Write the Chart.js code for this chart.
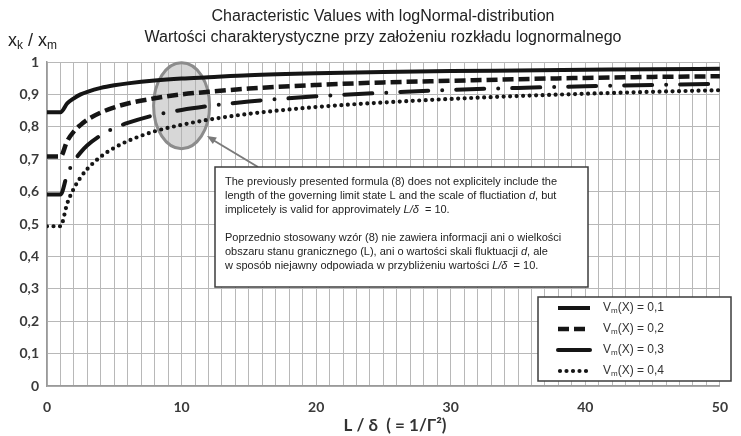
<!DOCTYPE html>
<html>
<head>
<meta charset="utf-8">
<script src="https://cdn.jsdelivr.net/npm/chart.js@4"></script>
<style>
  body { margin: 0; background: #fff; }
</style>
</head>
<body>
<canvas id="chart" width="741" height="436"></canvas>
<script>
/*=================================
      data
=================================*/
var ratios = [0, 1, 1.5, 2, 2.5, 3, 4, 5, 6, 8, 10, 12, 15, 20, 25, 30, 35, 40, 45, 50];
var v01 = [0.845, 0.845, 0.872, 0.888, 0.900, 0.908, 0.920, 0.928, 0.934, 0.943, 0.949, 0.953, 0.959, 0.965, 0.969, 0.972, 0.974, 0.976, 0.978, 0.979];
var v02 = [0.708, 0.708, 0.756, 0.786, 0.806, 0.822, 0.844, 0.860, 0.872, 0.888, 0.900, 0.908, 0.918, 0.929, 0.937, 0.942, 0.947, 0.951, 0.954, 0.956];
var v03 = [0.591, 0.591, 0.653, 0.693, 0.721, 0.743, 0.774, 0.796, 0.812, 0.836, 0.852, 0.864, 0.878, 0.894, 0.905, 0.914, 0.920, 0.925, 0.929, 0.933];
var v04 = [0.493, 0.493, 0.563, 0.610, 0.644, 0.670, 0.708, 0.735, 0.756, 0.786, 0.806, 0.822, 0.840, 0.861, 0.875, 0.886, 0.895, 0.902, 0.908, 0.913];
var legendValues = ["0,1", "0,2", "0,3", "0,4"];
var xLabelStep = 10;

var titleLines = [
  "Characteristic Values with logNormal-distribution",
  "Wartości charakterystyczne przy założeniu rozkładu lognormalnego",
];
var xTitle = "L / δ  ( = 1/Γ²)";

var noteLines = [
  [["The previously presented formula (8) does not explicitely include the", false]],
  [["length of the governing limit state L and the scale of fluctiation ", false], ["d", true], [", but", false]],
  [["implicetely is valid for approvimately ", false], ["L/δ", true], ["  = 10.", false]],
  null,
  [["Poprzednio stosowany wzór (8) nie zawiera informacji ani o wielkości", false]],
  [["obszaru stanu granicznego (L), ani o wartości skali fluktuacji ", false], ["d", true], [", ale", false]],
  [["w sposób niejawny odpowiada w przybliżeniu wartości ", false], ["L/δ", true], ["  = 10.", false]],
];

function points(values) {
  return ratios.map((r, i) => ({ x: r, y: values[i] }));
}

var ink = "#151515";
var styles = [
  { width: 4, dash: [], cap: "butt" },
  { width: 4.5, dash: [11, 5], cap: "butt" },
  { width: 4, dash: [28, 14, 0, 14], cap: "round" },
  { width: 4.2, dash: [0, 6.5], cap: "round" },
];
var series = [v01, v02, v03, v04];

var datasets = series.map((s, i) => ({
  label: "V_m(X) = " + legendValues[i],
  data: points(s),
  borderColor: ink,
  borderWidth: styles[i].width,
  borderDash: styles[i].dash,
  borderCapStyle: styles[i].cap,
  pointRadius: 0,
  cubicInterpolationMode: "monotone",
  fill: false,
}));

/*=================================
      extra drawing on canvas
=================================*/
function subText(ctx, parts, x, y, size) {
  // parts: [text, isSub]
  parts.forEach((p) => {
    ctx.font = (p[1] ? Math.round(size * 0.65) : size) + "px 'Liberation Sans', Arial, sans-serif";
    ctx.fillText(p[0], x, p[1] ? y + size * 0.25 : y);
    x += ctx.measureText(p[0]).width;
  });
  return x;
}

var decor = {
  id: "decor",
  beforeDatasetsDraw(chart) {
    const ctx = chart.ctx;
    const xs = chart.scales.x, ys = chart.scales.y;
    // grey ellipse round L/δ = 10
    const cx = xs.getPixelForValue(10), cy = ys.getPixelForValue(0.865);
    ctx.save();
    ctx.beginPath();
    ctx.ellipse(cx, cy, 28, 43, 0, 0, Math.PI * 2);
    ctx.fillStyle = "rgba(175,175,175,0.5)";
    ctx.fill();
    ctx.lineWidth = 3;
    ctx.strokeStyle = "#8c8c8c";
    ctx.stroke();
    ctx.restore();
  },
  afterDraw(chart) {
    const ctx = chart.ctx;
    ctx.save();
    ctx.fillStyle = "#222";
    ctx.textBaseline = "middle";

    // title
    ctx.textAlign = "center";
    ctx.font = "16px 'Liberation Sans', Arial, sans-serif";
    ctx.fillText(titleLines[0], 383, 17);
    ctx.fillText(titleLines[1], 383, 38);

    // y axis title
    ctx.textAlign = "left";
    subText(ctx, [["x", false], ["k", true], [" / x", false], ["m", true]], 8, 41, 18);

    // x axis title
    ctx.textAlign = "center";
    ctx.fillStyle = "#333";
    ctx.font = "bold 17px Lato, sans-serif";
    ctx.fillText(xTitle, 395, 426);

    // arrow from the note to the ellipse
    const ax = 207, ay = 136, bx = 258, by = 167;
    ctx.strokeStyle = "#7a7a7a";
    ctx.fillStyle = "#7a7a7a";
    ctx.lineWidth = 2;
    ctx.beginPath();
    ctx.moveTo(bx, by);
    ctx.lineTo(ax + 6, ay + 4);
    ctx.stroke();
    const ang = Math.atan2(ay - by, ax - bx);
    ctx.beginPath();
    ctx.moveTo(ax, ay);
    ctx.lineTo(ax - 10 * Math.cos(ang - 0.4), ay - 10 * Math.sin(ang - 0.4));
    ctx.lineTo(ax - 10 * Math.cos(ang + 0.4), ay - 10 * Math.sin(ang + 0.4));
    ctx.closePath();
    ctx.fill();

    // note box
    ctx.fillStyle = "#fff";
    ctx.fillRect(215, 167, 373, 120);
    ctx.strokeStyle = "#3c3c3c";
    ctx.lineWidth = 1.5;
    ctx.strokeRect(215, 167, 373, 120);
    ctx.fillStyle = "#222";
    ctx.textAlign = "left";
    noteLines.forEach((line, i) => {
      if (!line) return;
      let x = 225;
      const y = 182 + i * 14;
      line.forEach((run) => {
        ctx.font = (run[1] ? "italic " : "") + "11px 'Liberation Sans', Arial, sans-serif";
        ctx.fillText(run[0], x, y);
        x += ctx.measureText(run[0]).width;
      });
    });

    // legend box
    ctx.fillStyle = "#fff";
    ctx.fillRect(538, 297, 193, 84);
    ctx.strokeStyle = "#3c3c3c";
    ctx.strokeRect(538, 297, 193, 84);
    datasets.forEach((ds, i) => {
      const y = 308 + i * 21;
      ctx.save();
      ctx.strokeStyle = ink;
      ctx.lineWidth = ds.borderWidth;
      ctx.setLineDash(i === 2 ? [] : ds.borderDash);
      ctx.lineCap = ds.borderCapStyle;
      ctx.beginPath();
      ctx.moveTo(i === 3 ? 560 : 558, y);
      ctx.lineTo(590, y);
      ctx.stroke();
      ctx.restore();
      ctx.fillStyle = "#333";
      subText(ctx, [["V", false], ["m", true], ["(X) = " + legendValues[i], false]], 603, y, 12);
    });
    ctx.restore();
  },
};

/*=================================
      chart
=================================*/
var tickFont = { family: "Lato, sans-serif", size: 14, weight: "bold" };

new Chart("chart", {
  type: "line",
  data: { datasets: datasets },
  plugins: [decor],
  options: {
    responsive: false,
    animation: false,
    layout: { padding: { top: 62, right: 3, left: 0, bottom: 0 } },
    plugins: {
      legend: { display: false },
      tooltip: { enabled: false },
      title: { display: false },
    },
    scales: {
      x: {
        type: "linear",
        min: 0,
        max: 50,
        afterFit: (scale) => { scale.height = 50; },
        grid: { color: "#b8b8b8", drawTicks: false },
        border: { color: "#9a9a9a", width: 1.5 },
        ticks: {
          stepSize: 1,
          autoSkip: false,
          maxTicksLimit: 60,
          maxRotation: 0,
          padding: 13,
          color: "#3a3a3a",
          font: tickFont,
          callback: (v) => (v % xLabelStep === 0 ? String(v) : ""),
        },
      },
      y: {
        min: 0,
        max: 1,
        afterFit: (scale) => { scale.width = 47; },
        grid: { color: "#b8b8b8", drawTicks: false },
        border: { color: "#9a9a9a", width: 1.5 },
        ticks: {
          stepSize: 0.1,
          padding: 8,
          color: "#3a3a3a",
          font: tickFont,
          callback: (v) => {
            if (Math.abs(v) < 1e-9) return "0";
            if (Math.abs(v - 1) < 1e-9) return "1";
            return v.toFixed(1).replace(".", ",");
          },
        },
      },
    },
  },
});
</script>
</body>
</html>
